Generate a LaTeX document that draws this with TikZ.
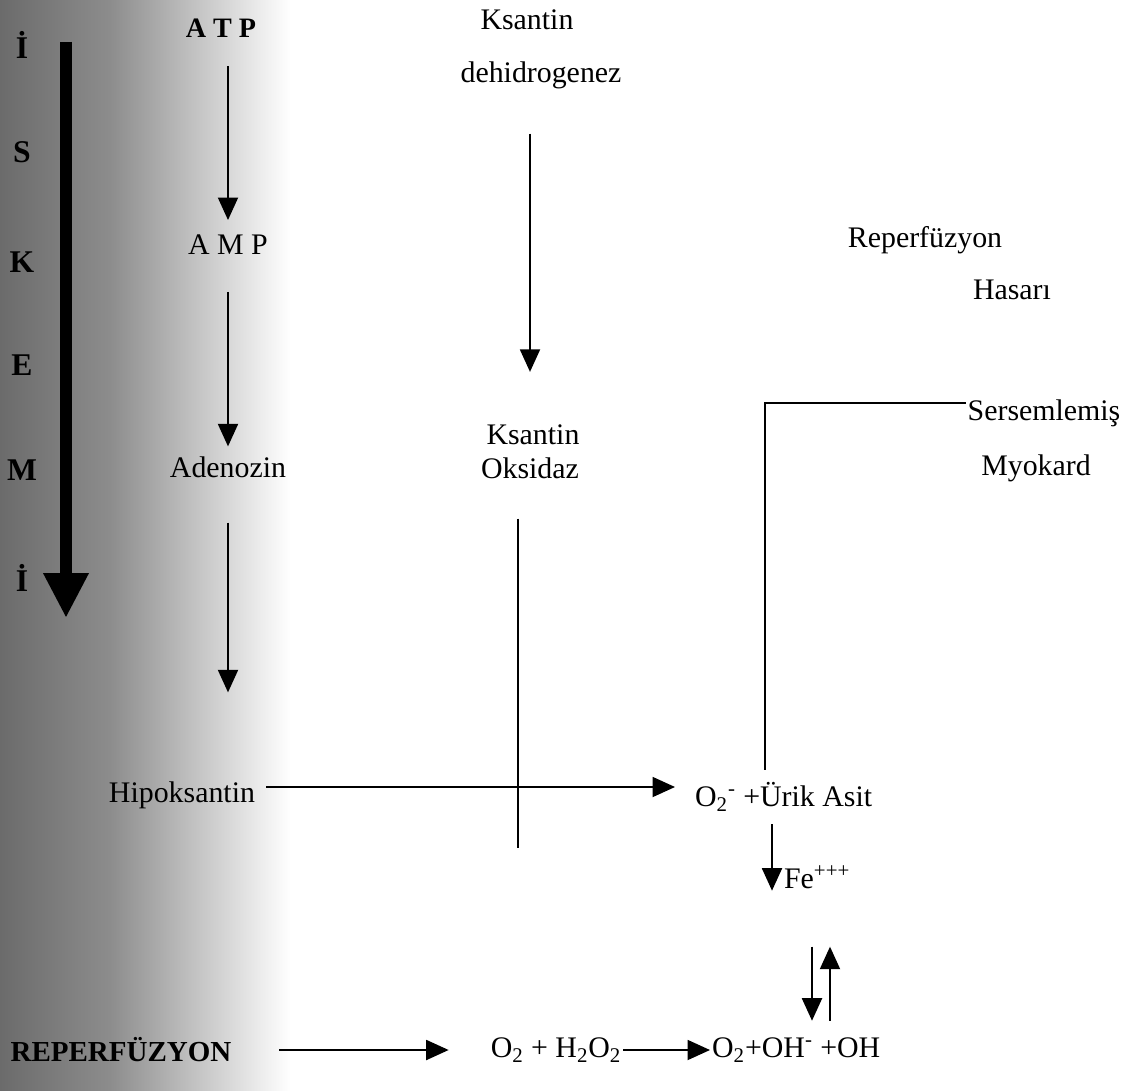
\documentclass[tikz,border=0pt]{standalone}
\usepackage{fontspec}
\setmainfont{Liberation Serif}
\usetikzlibrary{arrows.meta,positioning}

\begin{document}
\begin{tikzpicture}[x=0.02cm, y=-0.02cm,
  every node/.style={font=\fontsize{17}{20}\selectfont, inner sep=1pt},
  band/.style={font=\fontsize{18}{20}\selectfont\bfseries},
  arr/.style={-{Triangle[width=0.4cm,length=0.45cm]}, line width=1.1pt},
  bigarr/.style={-{Triangle[width=0.85cm,length=0.9cm]}, line width=7pt},
  ln/.style={line width=1.1pt},
]
\useasboundingbox (0,0) rectangle (1132,1091);

%% Shaded band (ischemia)
\shade[left color=black!58, right color=black!45] (0,0) rectangle (110,1091);
\shade[left color=black!45, right color=white] (110,0) rectangle (290,1091);

%% Letters of the band
\foreach \ch/\yy [count=\i] in {İ/45, S/152, K/262, E/365, M/470, İ/578} {
  \node[band] (l\i) at (22,\yy) {\ch};
}
\coordinate (bigtop) at (66,42);
\coordinate (bigtip) at (66,618);
\draw[bigarr] (bigtop) -- (bigtip);

%% Nucleotide chain
\node[font=\fontsize{16}{19}\selectfont\bfseries] (atp) at (221,28) {A T P};
\node (amp) at (228,245) {A M P};
\node (adenozin) at (228,467) {Adenozin};
\node (hipo) at (182,795) {Hipoksantin};

%% Enzymes
\node (ksdh1) at (527,20) {Ksantin};
\node (ksdh2) at (541,75) {dehidrogenez};
\node (ksox1) at (533,435) {Ksantin};
\node (ksox2) at (530,468) {Oksidaz};

%% Right side
\node (reper) at (925,240) {Reperfüzyon};
\node (hasar) at (1012,290) {Hasarı};
\node (sersem) at (1044,413) {Sersemlemiş};
\node (myo) at (1036,468) {Myokard};
\node[anchor=west] (urik) at (693,797) {O\textsubscript{2}\textsuperscript{-} +Ürik Asit};
\node[anchor=west] (fe) at (782,877) {Fe\textsuperscript{+++}};

%% Bottom row
\node[font=\fontsize{16.5}{19}\selectfont\bfseries] (reperf) at (121,1050) {REPERFÜZYON};
\node (oh2) at (556,1050) {O\textsubscript{2} + H\textsubscript{2}O\textsubscript{2}};
\node[anchor=west] (oh) at (710,1050) {O\textsubscript{2}+OH\textsuperscript{-} +OH};

%% Arrows
\draw[arr, shorten <=0.54cm, shorten >=0.26cm] (atp.south -| amp.north) -- (amp.north);
\draw[arr, shorten <=0.7cm, shorten >=0.16cm] (amp.south) -- (adenozin.north -| amp.south);
\draw[arr, shorten <=0.86cm, shorten >=1.74cm] (adenozin.south) -- (adenozin.south |- hipo.north);
\draw[arr, shorten <=0.18cm, shorten >=0.36cm] ([yshift=0.16cm]hipo.east) -- ([yshift=0.16cm]hipo.east -| urik.west);
\draw[arr, shorten <=0.86cm, shorten >=1.02cm] (ksdh2.south -| ksox2.north) -- (ksox1.north -| ksox2.north);

\coordinate (oxend) at (518,848);
\draw[ln, shorten <=0.76cm] (ksox2.south -| oxend) -- (oxend);

\coordinate (sbend) at (765,770);
\draw[ln] ([yshift=0.2cm]sersem.west) -| (sbend);

\draw[arr, shorten <=0.22cm] ([xshift=-0.2cm]urik.south -| fe.west) -- ([xshift=-0.2cm]fe.south west);
\draw[arr, shorten <=1.12cm, shorten >=0.3cm] ([xshift=0.6cm]fe.south west) -- ([xshift=0.6cm]fe.south west |- oh.north);
\draw[arr, shorten <=0.3cm, shorten >=1.12cm] ([xshift=0.96cm]fe.south west |- oh.north) -- ([xshift=0.96cm]fe.south west);

\draw[arr, shorten <=0.92cm, shorten >=0.8cm] (reperf.east) -- (oh2.west);
\draw[arr] (oh2.east) -- (oh.west);

\end{tikzpicture}
\end{document}
